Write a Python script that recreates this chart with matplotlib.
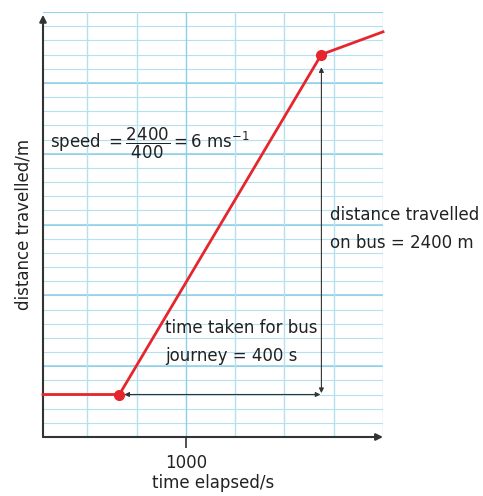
import numpy as np
import matplotlib.pyplot as plt

# journey data (time in s, distance in m)
times = [710, 865, 1275, 1400]
distances = [300, 300, 2700, 2860]
bus_start = (865, 300)
bus_end = (1275, 2700)
x_label_ticks = [1000]

grid_x = np.arange(800, 1401, 100)
grid_y_minor = np.arange(100, 3001, 100)
grid_y_major = np.arange(500, 3001, 500)

red = '#e5262d'
blue_minor = '#b5e0ef'
blue_major = '#8ccfe6'
ink = '#222222'

plt.rcParams['mathtext.fontset'] = 'dejavusans'

fig = plt.figure(figsize=(4.83, 4.96), dpi=100)
ax = fig.add_axes([43/483, 59/496, 340/483, 425/496])
ax.set_xlim(710, 1400)
ax.set_ylim(0, 3000)

# squared paper
for y in grid_y_minor:
    ax.axhline(y, color=blue_minor, lw=0.8, zorder=0)
for y in grid_y_major:
    ax.axhline(y, color=blue_major, lw=1.1, zorder=0)
for x in grid_x:
    c = blue_major if x == 1000 else blue_minor
    ax.axvline(x, color=c, lw=1.0, zorder=0)

for s in ax.spines.values():
    s.set_visible(False)
ax.set_yticks([])
ax.set_xticks(x_label_ticks)
ax.set_xticklabels([str(v) for v in x_label_ticks], fontsize=12, color=ink)
ax.tick_params(axis='x', length=8, width=1.2, color='#333333', pad=4)

# axes arrows
ax.annotate('', xy=(1400, 0), xytext=(710, 0), annotation_clip=False,
            arrowprops=dict(arrowstyle='-|>', color='#333333', lw=1.5,
                            mutation_scale=10, shrinkA=0, shrinkB=0))
ax.annotate('', xy=(710, 2980), xytext=(710, 0), annotation_clip=False,
            arrowprops=dict(arrowstyle='-|>', color='#333333', lw=1.5,
                            mutation_scale=10, shrinkA=0, shrinkB=0))

# graph
ax.plot(times, distances, color=red, lw=2, zorder=3, clip_on=False)
ax.plot([bus_start[0], bus_end[0]], [bus_start[1], bus_end[1]], 'o',
        color=red, ms=7, zorder=4)

# dimension arrows
ax.annotate('', xy=(bus_start[0] + 10, bus_start[1]), xytext=(bus_end[0] - 2, bus_start[1]),
            arrowprops=dict(arrowstyle='<|-|>', color='#333333', lw=0.8,
                            mutation_scale=7, shrinkA=0, shrinkB=0))
ax.annotate('', xy=(bus_end[0], bus_end[1] - 90), xytext=(bus_end[0], bus_start[1] + 10),
            arrowprops=dict(arrowstyle='<|-|>', color='#333333', lw=0.8,
                            mutation_scale=7, shrinkA=0, shrinkB=0))

# labels
ax.set_xlabel('time elapsed/s', fontsize=12, color=ink)
ax.set_ylabel('distance travelled/m', fontsize=12, color=ink)
ax.xaxis.set_label_coords(0.5, -0.088)
ax.yaxis.set_label_coords(-0.032, 0.5)

ax.text(724, 2070, r'speed $=\dfrac{2400}{400}= 6\ \mathrm{ms}^{-1}$', fontsize=12,
        color=ink, va='center', ha='left')
ax.text(1293, 1470, 'distance travelled\non bus = 2400 m', fontsize=12,
        color=ink, va='center', ha='left', linespacing=1.7)
ax.text(958, 670, 'time taken for bus\njourney = 400 s', fontsize=12,
        color=ink, va='center', ha='left', linespacing=1.7)

fig.savefig('out.png', dpi=100)
